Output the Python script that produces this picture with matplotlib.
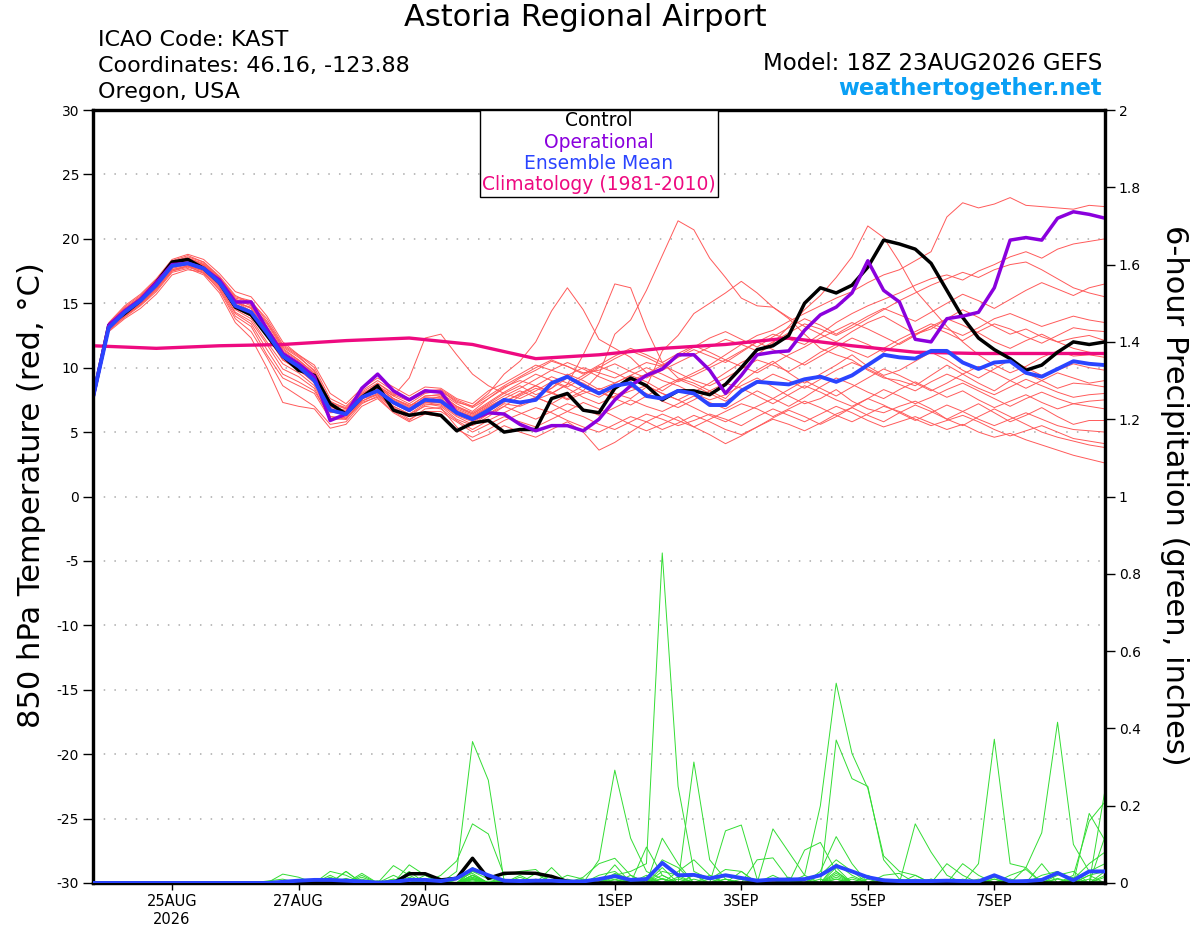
import numpy as np
import matplotlib
matplotlib.use('Agg')
import matplotlib.pyplot as plt
from matplotlib.patches import Rectangle
from matplotlib.ticker import FuncFormatter

plt.rcParams['font.family'] = 'DejaVu Sans'
plt.rcParams['axes.unicode_minus'] = False

# forecast hours from 18Z 23AUG2026, every 6 h
hours = np.arange(0, 385, 6)
tick_hours = [30, 78, 126, 198, 246, 294, 342]
tick_labels = ['25AUG\n2026', '27AUG', '29AUG', '1SEP', '3SEP', '5SEP', '7SEP']

control_t = [7.7, 13.3, 14.2, 15.2, 16.6, 18.2, 18.4, 17.7, 16.6, 14.7, 14.1, 12.5, 10.9,
             9.8, 9.4, 7.2, 6.4, 7.7, 8.6, 6.7, 6.3, 6.5, 6.3, 5.1, 5.7, 5.9,
             5.0, 5.2, 5.2, 7.6, 8.0, 6.7, 6.5, 8.4, 9.2, 8.6, 7.5, 8.2, 8.2,
             7.9, 8.7, 10.0, 11.4, 11.7, 12.5, 15.0, 16.2, 15.8, 16.4, 17.8, 19.9, 19.6,
             19.2, 18.1, 16.0, 13.9, 12.3, 11.4, 10.7, 9.8, 10.2, 11.2, 12.0, 11.8, 12.0]

oper_t = [7.7, 13.3, 14.4, 15.3, 16.6, 18.0, 18.1, 17.7, 16.8, 15.1, 15.1, 13.0, 11.1,
          10.3, 9.3, 5.9, 6.4, 8.4, 9.5, 8.2, 7.5, 8.2, 8.1, 6.5, 6.0, 6.5,
          6.4, 5.6, 5.1, 5.5, 5.5, 5.1, 6.0, 7.5, 8.6, 9.4, 9.9, 11.0, 11.0,
          9.8, 8.0, 9.4, 11.0, 11.2, 11.3, 12.9, 14.1, 14.7, 15.8, 18.3, 16.0, 15.1,
          12.2, 12.0, 13.8, 14.0, 14.3, 16.2, 19.9, 20.1, 19.9, 21.6, 22.1, 21.9, 21.6]

mean_t = [7.7, 13.1, 14.3, 15.2, 16.4, 17.9, 18.1, 17.7, 16.6, 14.8, 14.3, 12.7, 10.9,
          10.1, 9.0, 6.7, 6.4, 7.7, 8.2, 7.3, 6.7, 7.5, 7.4, 6.5, 6.0, 6.7,
          7.5, 7.3, 7.5, 8.8, 9.3, 8.6, 8.0, 8.6, 8.8, 7.8, 7.6, 8.2, 8.0,
          7.1, 7.1, 8.2, 8.9, 8.8, 8.7, 9.1, 9.3, 8.9, 9.4, 10.2, 11.0, 10.8,
          10.7, 11.3, 11.3, 10.4, 9.9, 10.4, 10.5, 9.6, 9.3, 9.9, 10.5, 10.3, 10.2]

clim_hours = hours[::4]
clim_t = [11.7, 11.5, 11.7, 11.8, 12.1, 12.3, 11.8, 10.7, 11.0,
          11.5, 11.8, 12.3, 11.7, 11.2, 11.1, 11.1, 11.1]

members_t = [
    [7.7, 13.4, 14.6, 15.4, 16.8, 18.2, 18.6, 18.2, 17.1, 15.6, 15.0, 13.4, 11.5,
     10.6, 9.6, 7.2, 6.0, 7.5, 8.6, 7.6, 7.0, 7.8, 7.9, 7.0, 6.4, 7.2,
     8.0, 8.6, 7.9, 8.4, 9.5, 9.0, 8.3, 8.8, 9.4, 8.9, 8.2, 9.0, 9.6,
     10.2, 11.0, 11.8, 12.5, 12.9, 13.6, 14.2, 14.8, 15.4, 15.9, 16.6, 17.2, 17.6,
     18.3, 19.0, 21.7, 22.8, 22.4, 22.7, 23.2, 22.6, 22.5, 22.4, 22.3, 22.6, 22.5],
    [7.7, 13.0, 14.1, 15.0, 16.2, 17.7, 18.0, 17.6, 16.4, 14.5, 13.8, 12.0, 10.3,
     9.6, 8.6, 6.2, 6.0, 7.4, 8.0, 7.0, 6.4, 7.2, 7.0, 6.0, 5.5, 6.2,
     7.0, 7.8, 8.4, 8.0, 7.6, 8.2, 9.5, 12.6, 13.7, 16.0, 18.7, 21.4, 20.7,
     18.5, 17.0, 15.4, 14.8, 14.7, 13.8, 12.6, 11.5, 11.0, 10.6, 9.8, 9.2, 9.0,
     8.6, 9.4, 10.2, 9.5, 8.8, 8.2, 9.0, 9.6, 9.0, 8.4, 8.8, 8.7, 8.5],
    [7.7, 13.2, 14.4, 15.3, 16.6, 18.0, 18.3, 18.0, 16.9, 15.2, 14.6, 13.0, 11.2,
     10.2, 9.2, 6.8, 6.5, 7.9, 8.5, 7.6, 7.1, 7.4, 7.8, 6.8, 6.3, 7.0,
     7.6, 7.2, 7.7, 8.4, 9.2, 8.8, 8.1, 7.7, 8.2, 8.6, 8.0, 7.5, 8.1,
     8.8, 9.6, 10.4, 11.0, 11.9, 13.2, 14.5, 15.6, 17.0, 18.6, 21.0, 20.1, 18.2,
     16.0, 14.6, 13.2, 12.0, 11.0, 10.2, 9.6, 10.1, 10.8, 11.3, 10.9, 11.0, 10.8],
    [7.7, 13.3, 14.5, 15.5, 16.6, 18.2, 18.5, 18.0, 16.8, 15.3, 14.9, 13.5, 11.6,
     10.8, 9.8, 7.4, 6.8, 7.8, 8.8, 7.9, 7.4, 8.1, 8.2, 7.3, 7.0, 8.0,
     9.5, 10.5, 12.0, 14.4, 16.2, 14.5, 12.2, 11.5, 10.8, 9.6, 9.0, 8.6, 8.0,
     7.5, 7.9, 8.6, 9.2, 8.5, 7.8, 7.2, 7.6, 8.3, 7.4, 6.8, 6.5, 7.0,
     7.4, 6.8, 6.0, 6.6, 7.2, 6.5, 5.8, 6.3, 6.9, 6.2, 5.6, 5.9, 5.9],
    [7.7, 12.9, 14.0, 14.9, 16.1, 17.6, 17.9, 17.5, 16.3, 14.3, 13.6, 11.8, 9.9,
     9.3, 8.4, 6.0, 6.2, 7.6, 7.9, 6.9, 6.2, 7.1, 7.2, 6.3, 5.8, 6.4,
     7.2, 7.0, 7.5, 8.0, 8.7, 11.0, 13.5, 16.5, 16.2, 13.0, 10.4, 9.2, 8.8,
     8.2, 7.6, 8.9, 9.8, 10.5, 9.6, 8.8, 9.5, 10.2, 11.0, 10.1, 9.4, 9.8,
     10.5, 11.2, 10.6, 9.8, 9.2, 9.9, 10.6, 10.0, 9.4, 9.8, 10.3, 10.0, 9.8],
    [7.7, 13.1, 14.2, 15.1, 16.3, 17.8, 18.2, 17.8, 16.7, 14.9, 14.4, 12.9, 11.0,
     10.3, 9.3, 7.0, 6.6, 7.7, 8.3, 7.5, 6.9, 7.6, 7.5, 6.6, 6.2, 6.9,
     7.4, 7.9, 8.6, 8.1, 7.5, 8.0, 8.4, 8.0, 7.6, 8.5, 11.3, 12.5, 14.2,
     15.0, 15.8, 16.7, 15.8, 14.7, 13.9, 13.2, 12.6, 12.0, 12.8, 13.5, 14.0, 13.3,
     12.6, 13.0, 13.8, 14.5, 13.9, 13.2, 12.6, 13.0, 12.4, 12.0, 12.3, 12.5, 12.1],
    [7.7, 13.5, 14.8, 15.7, 16.9, 18.4, 18.8, 18.4, 17.3, 15.9, 15.5, 14.0, 12.0,
     11.0, 10.2, 8.0, 7.2, 8.4, 9.2, 8.5, 7.8, 8.5, 8.4, 7.6, 7.2, 8.2,
     8.8, 9.5, 10.2, 9.8, 9.4, 10.0, 9.6, 9.2, 9.8, 10.4, 10.1, 10.8, 11.4,
     10.9, 10.4, 11.2, 12.0, 12.6, 12.2, 11.8, 12.6, 13.5, 14.2, 14.8, 15.3, 15.8,
     16.4, 16.9, 17.2, 16.8, 17.5, 18.0, 18.6, 19.0, 18.5, 19.2, 19.6, 19.8, 20.0],
    [7.7, 13.0, 14.2, 15.1, 16.4, 17.9, 18.3, 17.9, 16.8, 15.0, 14.7, 13.2, 11.4,
     10.6, 9.5, 7.2, 6.8, 8.0, 8.6, 7.8, 7.2, 8.0, 8.2, 7.4, 6.9, 7.6,
     8.4, 9.2, 9.8, 10.5, 10.1, 9.6, 9.8, 10.3, 9.7, 9.2, 9.8, 10.4, 11.0,
     11.6, 12.2, 11.8, 11.3, 12.0, 12.7, 13.4, 13.0, 12.5, 13.1, 13.8, 14.5, 15.2,
     15.8, 16.4, 16.9, 17.4, 17.0, 17.6, 18.0, 18.2, 17.6, 16.9, 16.2, 15.8, 15.5],
    [7.7, 12.8, 13.8, 14.6, 15.7, 17.2, 17.6, 17.4, 16.0, 13.8, 12.8, 10.8, 8.6,
     7.8, 7.0, 5.6, 5.8, 7.2, 7.8, 6.8, 6.0, 6.6, 6.6, 5.8, 5.0, 5.6,
     6.2, 5.8, 5.4, 6.0, 6.6, 6.2, 5.6, 5.2, 5.8, 6.4, 6.0, 5.5, 5.9,
     6.4, 6.0, 5.5, 6.2, 6.8, 6.3, 5.8, 6.4, 7.0, 6.5, 5.9, 5.4, 5.8,
     6.2, 5.7, 5.2, 5.6, 5.0, 4.6, 4.9, 4.4, 4.0, 3.6, 3.2, 2.9, 2.6],
    [7.7, 12.9, 13.9, 14.8, 15.9, 17.4, 17.7, 17.2, 15.8, 13.5, 12.3, 10.0, 7.3,
     7.0, 6.8, 5.3, 5.6, 7.0, 7.6, 6.5, 5.8, 6.4, 6.2, 5.2, 4.6, 5.2,
     5.9, 6.4, 6.9, 6.5, 5.9, 5.4, 5.0, 5.6, 6.2, 5.8, 5.2, 5.7, 6.3,
     5.8, 5.2, 4.8, 5.4, 6.0, 5.6, 5.1, 5.7, 6.4, 6.9, 6.3, 5.8, 6.5,
     7.1, 6.6, 6.0, 5.5, 6.2, 6.8, 6.2, 5.6, 5.0, 4.6, 4.3, 4.0, 3.8],
    [7.7, 13.0, 14.0, 14.9, 16.0, 17.5, 17.9, 17.3, 16.1, 14.0, 13.2, 11.0, 9.2,
     8.6, 8.0, 6.0, 6.0, 7.3, 7.7, 6.6, 5.9, 6.8, 6.9, 5.4, 4.3, 4.8,
     5.5, 5.0, 4.6, 5.2, 5.8, 5.0, 3.6, 4.2, 5.0, 5.8, 6.4, 5.9, 5.4,
     6.0, 6.6, 7.2, 6.8, 6.2, 6.8, 7.4, 6.9, 6.3, 5.8, 6.4, 7.0, 6.6,
     6.0, 5.5, 5.9, 6.3, 5.8, 5.2, 4.7, 5.1, 5.5, 5.0, 4.5, 4.3, 4.1],
    [7.7, 13.2, 14.3, 15.3, 16.5, 17.9, 18.2, 17.9, 16.7, 15.1, 14.4, 12.6, 10.6,
     9.9, 8.8, 6.5, 6.6, 8.0, 8.6, 7.8, 9.2, 12.3, 12.6, 11.0, 9.5, 8.6,
     8.0, 7.6, 8.2, 8.9, 8.4, 7.7, 7.2, 7.8, 8.5, 8.0, 7.4, 6.9, 7.5,
     8.2, 8.8, 8.4, 7.8, 7.2, 7.9, 8.6, 8.1, 7.5, 7.0, 7.6, 8.3, 7.8,
     7.2, 7.7, 8.3, 8.8, 8.2, 7.6, 7.0, 7.6, 8.1, 7.6, 7.2, 7.4, 7.5],
    [7.7, 13.4, 14.7, 15.6, 16.8, 18.3, 18.7, 18.2, 17.0, 15.4, 15.1, 13.8, 11.8,
     11.0, 10.0, 7.6, 7.0, 8.2, 9.0, 8.2, 7.6, 8.3, 8.0, 7.2, 6.6, 7.6,
     8.5, 9.0, 8.6, 8.0, 8.7, 9.4, 10.1, 9.6, 9.0, 9.5, 10.2, 9.6, 9.0,
     8.6, 9.2, 9.9, 10.6, 10.2, 9.7, 10.4, 11.2, 11.8, 11.3, 10.8, 11.5, 12.2,
     12.8, 13.4, 13.0, 12.5, 13.1, 13.8, 14.2, 13.7, 13.2, 13.6, 14.0, 13.7, 13.5],
    [7.7, 13.1, 14.1, 15.0, 16.2, 17.6, 17.9, 17.5, 16.4, 14.6, 14.0, 12.4, 10.6,
     9.8, 8.9, 6.6, 6.3, 7.6, 8.1, 7.2, 6.6, 7.3, 7.1, 6.2, 5.6, 6.4,
     7.0, 6.5, 6.0, 6.6, 7.2, 6.8, 6.3, 6.9, 7.5, 7.0, 6.6, 7.2, 7.8,
     7.3, 6.8, 7.5, 8.2, 7.6, 7.0, 7.7, 8.5, 9.2, 8.7, 8.1, 7.6, 8.3,
     8.9, 8.3, 7.7, 8.2, 7.5, 6.9, 7.4, 7.9, 7.3, 6.8, 7.2, 7.0, 6.8],
    [7.7, 13.3, 14.5, 15.4, 16.7, 18.1, 18.4, 18.0, 16.9, 15.3, 14.8, 13.1, 11.3,
     10.5, 9.4, 7.0, 6.6, 7.8, 8.4, 7.4, 6.8, 7.7, 7.7, 6.9, 6.4, 7.1,
     7.8, 8.4, 9.1, 9.8, 10.4, 9.9, 9.3, 8.8, 9.4, 10.0, 9.5, 8.9, 9.4,
     10.0, 10.6, 10.1, 9.6, 10.3, 11.0, 11.6, 12.3, 12.9, 13.5, 13.0, 12.4, 11.8,
     12.5, 13.2, 13.8, 13.3, 12.7, 12.0, 11.5, 12.1, 12.6, 12.0, 11.5, 11.2, 11.0],
    [7.7, 13.0, 14.2, 15.1, 16.3, 17.8, 18.0, 17.6, 16.5, 14.7, 14.2, 12.5, 10.7,
     10.0, 9.1, 6.8, 6.4, 7.7, 8.1, 7.2, 6.6, 7.3, 7.3, 6.4, 6.0, 6.6,
     7.3, 8.0, 8.6, 9.3, 8.8, 8.2, 7.7, 8.4, 9.1, 8.6, 8.0, 7.5, 6.9,
     6.3, 5.8, 6.4, 7.0, 7.6, 8.3, 9.0, 8.4, 7.8, 8.5, 9.2, 9.9, 9.4,
     8.8, 8.2, 8.8, 9.5, 10.1, 9.6, 9.0, 8.4, 9.0, 9.6, 9.2, 8.8, 9.0],
    [7.7, 12.9, 14.0, 14.9, 16.1, 17.5, 17.8, 17.4, 16.2, 14.2, 13.4, 11.4, 9.5,
     8.9, 8.2, 6.2, 6.1, 7.4, 7.9, 7.0, 6.4, 7.0, 6.8, 5.9, 5.2, 5.9,
     6.5, 7.1, 7.7, 7.2, 6.6, 7.3, 6.8, 6.2, 5.6, 5.1, 5.6, 6.2, 5.4,
     4.8, 4.1, 4.7, 5.4, 6.1, 6.7, 6.2, 5.6, 6.2, 6.9, 7.6, 7.1, 6.5,
     5.9, 6.5, 7.1, 6.6, 6.0, 5.5, 6.0, 6.5, 6.0, 5.5, 5.2, 5.1, 5.0],
    [7.7, 13.2, 14.4, 15.3, 16.5, 18.0, 18.4, 17.9, 16.8, 15.1, 14.6, 13.0, 11.1,
     10.4, 9.2, 6.9, 6.7, 7.9, 8.5, 7.6, 7.0, 7.8, 7.9, 7.0, 6.5, 7.3,
     8.1, 8.8, 9.5, 9.0, 8.5, 9.2, 10.0, 10.7, 11.3, 10.8, 10.2, 10.9, 11.6,
     12.3, 12.8, 12.2, 11.6, 12.4, 13.1, 13.8, 13.3, 12.6, 13.3, 14.0, 14.6, 14.1,
     13.6, 14.3, 15.0, 15.7, 15.2, 14.6, 15.3, 16.0, 16.6, 16.1, 15.6, 16.2, 16.5],
    [7.7, 13.1, 14.3, 15.2, 16.4, 17.8, 18.1, 17.7, 16.6, 14.9, 14.4, 12.8, 10.8,
     10.1, 9.0, 6.7, 6.4, 7.6, 8.2, 7.3, 6.8, 7.5, 7.6, 6.7, 6.2, 6.9,
     7.6, 8.2, 7.7, 7.2, 7.9, 8.6, 8.1, 7.6, 7.1, 7.8, 8.5, 9.1, 8.6,
     8.0, 7.4, 8.1, 8.8, 9.5, 9.0, 8.4, 9.1, 9.8, 10.4, 9.9, 9.3, 8.7,
     8.2, 8.9, 9.5, 9.0, 8.4, 7.9, 8.5, 9.1, 8.6, 8.1, 7.7, 7.9, 8.0],
    [7.7, 13.4, 14.6, 15.5, 16.7, 18.1, 18.5, 18.1, 17.0, 15.5, 15.2, 13.6, 11.7,
     10.9, 9.7, 7.3, 6.9, 8.1, 8.8, 8.0, 7.5, 8.2, 8.3, 7.5, 7.0, 7.8,
     8.6, 9.3, 10.0, 10.6, 10.1, 9.5, 10.2, 10.9, 11.5, 11.0, 10.4, 11.1, 11.7,
     11.2, 10.6, 11.3, 12.0, 11.4, 10.8, 10.2, 10.9, 11.6, 12.3, 11.8, 11.2, 11.9,
     12.6, 13.2, 12.7, 12.1, 12.8, 13.4, 13.0, 12.4, 11.9, 12.5, 13.1, 12.9, 12.8],
]

# 6-hour precipitation (inches); members given as {step index: value}, other steps 0
control_p = {20: 0.024, 21: 0.024, 22: 0.008, 23: 0.012, 24: 0.064, 25: 0.012,
             26: 0.025, 27: 0.026, 28: 0.025, 29: 0.017, 30: 0.004}

mean_p = [0, 0, 0, 0, 0, 0, 0, 0, 0, 0, 0, 0, 0.003,
          0.006, 0.008, 0.008, 0.006, 0.004, 0.001, 0.003, 0.008, 0.008, 0.005, 0.012, 0.036, 0.02,
          0.006, 0.005, 0.006, 0.006, 0.004, 0.004, 0.01, 0.018, 0.008, 0.01, 0.052, 0.02, 0.021,
          0.012, 0.02, 0.013, 0.006, 0.009, 0.009, 0.01, 0.02, 0.044, 0.03, 0.015, 0.007, 0.005,
          0.005, 0.005, 0.006, 0.005, 0.004, 0.02, 0.004, 0.005, 0.008, 0.026, 0.007, 0.03, 0.03]

members_p = [
    {12: 0.005, 16: 0.01, 19: 0.01, 24: 0.03, 25: 0.02, 33: 0.02, 34: 0.03, 35: 0.05, 36: 0.854,
     37: 0.25, 38: 0.03, 39: 0.01, 44: 0.01, 47: 0.02, 52: 0.01, 58: 0.01, 63: 0.02, 64: 0.03},
    {17: 0.02, 19: 0.045, 20: 0.02, 23: 0.03, 24: 0.366, 25: 0.266, 26: 0.005, 29: 0.02, 32: 0.01,
     35: 0.02, 38: 0.02, 40: 0.01, 46: 0.03, 47: 0.12, 48: 0.05, 53: 0.01, 61: 0.02, 62: 0.03},
    {12: 0.023, 13: 0.015, 16: 0.03, 22: 0.02, 23: 0.057, 24: 0.153, 25: 0.127, 26: 0.02, 27: 0.03,
     28: 0.035, 30: 0.01, 36: 0.06, 37: 0.04, 40: 0.135, 41: 0.15, 42: 0.01, 47: 0.04, 57: 0.02},
    {15: 0.02, 20: 0.047, 21: 0.02, 24: 0.02, 29: 0.04, 32: 0.06, 33: 0.292, 34: 0.116, 35: 0.03,
     36: 0.01, 43: 0.02, 47: 0.37, 48: 0.27, 49: 0.25, 50: 0.06, 51: 0.01, 63: 0.18, 64: 0.11},
    {16: 0.03, 18: 0.005, 24: 0.01, 31: 0.015, 32: 0.05, 33: 0.064, 34: 0.02, 38: 0.313, 39: 0.06,
     40: 0.01, 45: 0.02, 46: 0.2, 47: 0.517, 48: 0.335, 49: 0.245, 50: 0.07, 51: 0.03, 52: 0.02,
     60: 0.05, 64: 0.24},
    {17: 0.025, 20: 0.03, 24: 0.02, 27: 0.02, 33: 0.047, 35: 0.093, 36: 0.02, 43: 0.14, 44: 0.08,
     45: 0.02, 52: 0.153, 53: 0.08, 54: 0.02, 56: 0.05, 57: 0.372, 58: 0.05, 59: 0.04, 62: 0.01,
     63: 0.05, 64: 0.08},
    {21: 0.02, 24: 0.02, 34: 0.01, 36: 0.116, 37: 0.05, 45: 0.085, 46: 0.105, 47: 0.03, 54: 0.05,
     55: 0.02, 59: 0.04, 60: 0.13, 61: 0.416, 62: 0.1, 63: 0.03, 64: 0.05},
    {15: 0.03, 16: 0.02, 24: 0.015, 28: 0.025, 33: 0.025, 34: 0.01, 39: 0.01, 40: 0.035, 41: 0.03,
     47: 0.05, 48: 0.02, 55: 0.05, 56: 0.02, 62: 0.02, 63: 0.16, 64: 0.21},
    {11: 0.005, 12: 0.01, 19: 0.02, 24: 0.01, 30: 0.02, 31: 0.01, 37: 0.03, 38: 0.06, 39: 0.02,
     42: 0.06, 43: 0.065, 44: 0.01, 50: 0.02, 51: 0.025, 58: 0.02, 59: 0.035, 64: 0.12},
    {17: 0.01, 20: 0.015, 22: 0.01, 24: 0.03, 25: 0.01, 32: 0.02, 33: 0.03, 36: 0.03, 37: 0.02,
     41: 0.03, 46: 0.02, 47: 0.06, 48: 0.03, 56: 0.01, 60: 0.02, 61: 0.03},
    {16: 0.008, 20: 0.01, 24: 0.02, 26: 0.01, 33: 0.01, 35: 0.015, 40: 0.02, 41: 0.01, 48: 0.015,
     53: 0.01, 57: 0.015, 64: 0.03},
    {15: 0.015, 21: 0.01, 24: 0.04, 25: 0.015, 34: 0.02, 36: 0.02, 44: 0.015, 47: 0.01, 52: 0.02,
     58: 0.01, 62: 0.015},
    {17: 0.015, 24: 0.01, 28: 0.01, 33: 0.015, 37: 0.01, 39: 0.02, 45: 0.01, 49: 0.02, 55: 0.01,
     61: 0.01, 63: 0.02},
    {19: 0.01, 23: 0.01, 24: 0.025, 31: 0.01, 36: 0.04, 38: 0.01, 43: 0.01, 47: 0.025, 50: 0.01,
     57: 0.01, 64: 0.015},
    {16: 0.012, 24: 0.005, 27: 0.015, 34: 0.005, 41: 0.01, 46: 0.01, 48: 0.01, 54: 0.008, 60: 0.01},
    {20: 0.008, 24: 0.015, 32: 0.01, 36: 0.01, 42: 0.008, 47: 0.015, 56: 0.008, 63: 0.01},
    {13: 0.005, 21: 0.012, 25: 0.005, 30: 0.008, 37: 0.015, 44: 0.005, 51: 0.01, 59: 0.008, 64: 0.02},
    {18: 0.005, 24: 0.012, 33: 0.008, 40: 0.01, 47: 0.03, 53: 0.005, 62: 0.008},
    {22: 0.008, 29: 0.01, 35: 0.01, 43: 0.008, 49: 0.01, 58: 0.005},
    {24: 0.008, 36: 0.012, 47: 0.01, 57: 0.01, 61: 0.012},
]


def expand(d):
    a = np.zeros(len(hours))
    for k, v in d.items():
        a[k] = v
    return a


RED = '#ff5a5a'
GREEN = '#33dd33'
PURPLE = '#8a00dd'
BLUE = '#2a44ff'
MAGENTA = '#ee0a80'

fig = plt.figure(figsize=(12, 9.27), dpi=100)
ax = fig.add_axes([93 / 1200, 1 - 883 / 927, 1012 / 1200, 773 / 927])
ax2 = ax.twinx()

for m in members_t:
    ax.plot(hours, m, color=RED, lw=0.7, zorder=2)
ax.plot(clim_hours, clim_t, color=MAGENTA, lw=2.4, zorder=3)
ax.plot(hours, control_t, color='black', lw=2.5, zorder=4)
ax.plot(hours, oper_t, color=PURPLE, lw=2.5, zorder=5)
ax.plot(hours, mean_t, color=BLUE, lw=2.8, zorder=6)

for m in members_p:
    ax2.plot(hours, expand(m), color=GREEN, lw=0.7, zorder=2)
ax2.plot(hours, expand(control_p), color='black', lw=2.5, zorder=4)
ax2.plot(hours, mean_p, color=BLUE, lw=2.8, zorder=6)

ax.set_xlim(0, 384)
ax.set_ylim(-30, 30)
ax2.set_ylim(0, 2)
ax.set_yticks(np.arange(-30, 31, 5))
ax2.set_yticks(np.arange(0, 2.01, 0.2))
ax2.yaxis.set_major_formatter(FuncFormatter(lambda v, p: '%g' % round(v, 1)))
ax.set_xticks(tick_hours)
ax.set_xticklabels(tick_labels)

ax.yaxis.grid(True, color='#aaaaaa', linestyle=(0, (1, 6)), lw=1.1)
ax.set_axisbelow(True)

for a in (ax, ax2):
    for s in a.spines.values():
        s.set_linewidth(2.3)
ax.tick_params(axis='y', length=7, width=1, labelsize=10, pad=3)
ax.tick_params(axis='x', length=5, width=1, labelsize=10.5, pad=3)
ax2.tick_params(axis='y', length=7, width=1, labelsize=10, pad=3)

# legend box
ax2.add_patch(Rectangle((0.3824, 0.8875), 0.2352, 0.1125, transform=ax2.transAxes,
                        facecolor='white', edgecolor='black', lw=1, zorder=10))
leg_items = [('Control', 'black', 0.9858), ('Operational', PURPLE, 0.9586),
             ('Ensemble Mean', BLUE, 0.9314), ('Climatology (1981-2010)', MAGENTA, 0.903)]
for txt, col, yy in leg_items:
    ax2.text(0.5, yy, txt, color=col, fontsize=13.5, ha='center', va='center',
             transform=ax2.transAxes, zorder=11)

fig.text(585 / 1200, 1 - 18 / 927, 'Astoria Regional Airport', fontsize=22, ha='center', va='center')
fig.text(98 / 1200, 1 - 40 / 927, 'ICAO Code: KAST', fontsize=16, ha='left', va='center')
fig.text(98 / 1200, 1 - 66 / 927, 'Coordinates: 46.16, -123.88', fontsize=16, ha='left', va='center')
fig.text(98 / 1200, 1 - 92 / 927, 'Oregon, USA', fontsize=16, ha='left', va='center')
fig.text(1102 / 1200, 1 - 64 / 927, 'Model: 18Z 23AUG2026 GEFS', fontsize=16.5, ha='right', va='center')
fig.text(1102 / 1200, 1 - 89 / 927, 'weathertogether.net', fontsize=16.3, fontweight='bold',
         color='#0aa0f5', ha='right', va='center')
fig.text(32 / 1200, 1 - 495 / 927, '850 hPa Temperature (red, °C)', fontsize=22,
         rotation=90, ha='center', va='center')
fig.text(1175 / 1200, 1 - 495 / 927, '6-hour Precipitation (green, inches)', fontsize=22,
         rotation=270, ha='center', va='center')

fig.savefig('out.png', dpi=100, facecolor='white')
